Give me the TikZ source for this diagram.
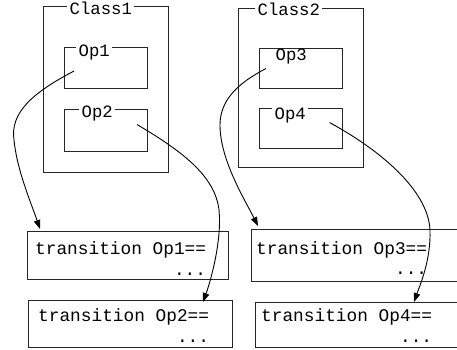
\documentclass[tikz,border=0pt]{standalone}
\usepackage{fontspec}
\setmonofont{Liberation Mono}
\usetikzlibrary{calc,arrows.meta}
\begin{document}
\begin{tikzpicture}[x=1pt,y=-1pt,
  frame/.style={draw=black!85, line width=1.1pt, inner sep=0pt, anchor=north west},
  tag/.style={font=\fontsize{17.3}{21}\ttfamily, fill=white, inner xsep=2.5pt, inner ysep=0.5pt,
    text height=11pt, text depth=3.5pt, anchor=base west},
  code/.style={font=\fontsize{17.8}{21}\ttfamily, inner sep=0pt},
  link/.style={line width=0.9pt, -{Triangle[length=9pt,width=6.5pt]}}]
\clip (0,0) rectangle (457,349);

% classes with their operations
\node[frame, minimum width=125pt, minimum height=166pt] (c1) at (43,6) {};
\node[tag] (c1t) at (67,14.5) {Class1};
\node[frame, minimum width=83pt, minimum height=41pt] (op1) at (64,47) {};
\node[tag] (op1t) at (76,56) {Op1};
\node[frame, minimum width=83pt, minimum height=42pt] (op2) at (64,109) {};
\node[tag] (op2t) at (79,117) {Op2};

\node[frame, minimum width=125pt, minimum height=159pt] (c2) at (238,8) {};
\node[tag] (c2t) at (255,15.5) {Class2};
\node[frame, minimum width=83pt, minimum height=40pt] (op3) at (259,48) {};
\node[tag] (op3t) at (273,60) {Op3};
\node[frame, minimum width=83pt, minimum height=40pt] (op4) at (259,108) {};
\node[tag] (op4t) at (272,119) {Op4};

% transition schemas
\node[frame, minimum width=201pt, minimum height=48pt] (t1) at (27,231) {};
\node[code, anchor=base west] (t1a) at (35,254) {transition Op1==};
\node[code, anchor=base east] (t1b) at ($(t1a.base east)+(0,21)$) {...};

\node[frame, minimum width=204pt, minimum height=47pt] (t2) at (28,300) {};
\node[code, anchor=base west] (t2a) at (38,321) {transition Op2==};
\node[code, anchor=base east] (t2b) at ($(t2a.base east)+(0,21)$) {...};

\node[frame, minimum width=230pt, minimum height=52pt] (t3) at (251,229) {};
\node[code, anchor=base west] (t3a) at (256,254) {transition Op3==};
\node[code, anchor=base east] (t3b) at ($(t3a.base east)+(0,20)$) {...};

\node[frame, minimum width=230pt, minimum height=45pt] (t4) at (255,302) {};
\node[code, anchor=base west] (t4a) at (261,321) {transition Op4==};
\node[code, anchor=base east] (t4b) at ($(t4a.base east)+(0,21)$) {...};

% operation -> transition links
\draw[link] ($(op1.west)+(10,3)$) .. controls (32,93) and (10,113) .. (14,140)
  .. controls (17,170) and (30,200) .. ($(t1.north west)+(13,-2)$);
\draw[link] ($(op2.center)+(31,-6)$) .. controls (180,150) and (215,175) .. (219,210)
  .. controls (222,240) and (211,280) .. ($(t2.north west)+(175,2)$);
\draw[link] ($(op3.west)+(7,0)$) .. controls (238,83) and (220,100) .. (220,125)
  .. controls (220,160) and (245,200) .. ($(t3.north west)+(7,-3)$);
\draw[link] ($(op4.center)+(28.5,-6)$) .. controls (380,150) and (428,190) .. (430,230)
  .. controls (431,260) and (420,285) .. ($(t4.north west)+(159,0)$);
\end{tikzpicture}
\end{document}
